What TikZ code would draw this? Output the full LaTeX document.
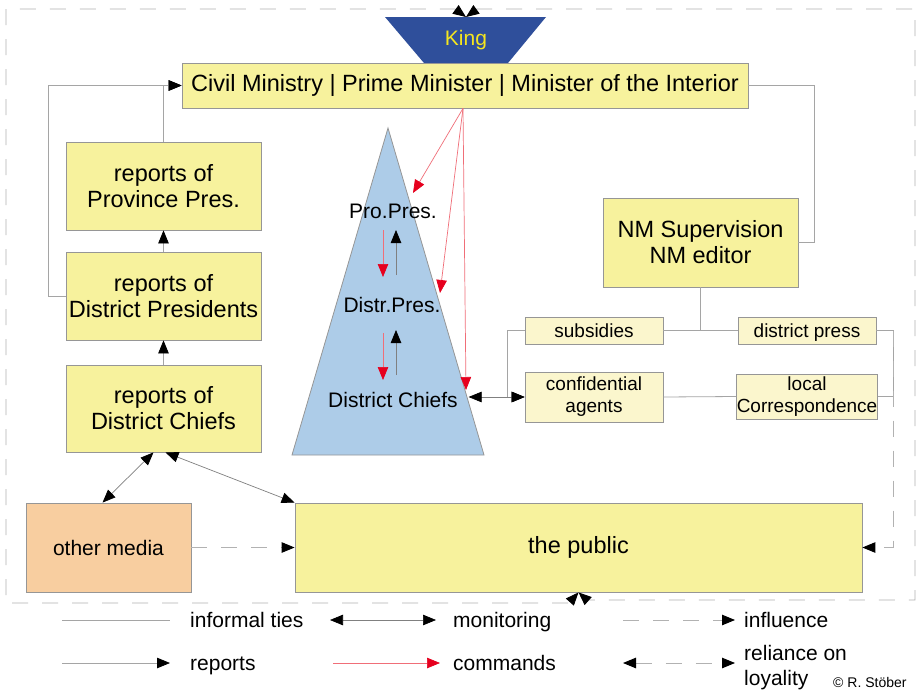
\documentclass[tikz,border=0pt]{standalone}
\usepackage{fontspec}
\setmainfont{Liberation Sans}
\usepackage{tikz}
\usetikzlibrary{arrows.meta}
\usetikzlibrary{calc}

\definecolor{boxyellow}{RGB}{247,242,157}
\definecolor{paleyellow}{RGB}{251,246,205}
\definecolor{mediafill}{RGB}{248,206,160}
\definecolor{pyramidblue}{RGB}{173,204,232}
\definecolor{kingblue}{RGB}{47,79,155}
\definecolor{kingtext}{RGB}{245,230,30}
\definecolor{edgegray}{RGB}{150,150,150}
\definecolor{linegray}{RGB}{165,165,165}
\definecolor{dashgray}{RGB}{178,178,178}
\definecolor{cmdred}{RGB}{230,0,30}
\definecolor{cmdline}{RGB}{240,110,120}

\begin{document}
\begin{tikzpicture}[x=1pt,y=-1pt,
>={Triangle[length=13pt,width=10.5pt,color=black]},
box/.style={draw=edgegray, fill=boxyellow, line width=0.8pt, align=center,
  inner sep=0pt, font=\fontsize{23.5}{26}\selectfont},
tallbox/.style={box, minimum width=195pt, minimum height=88pt},
smallbox/.style={box, fill=paleyellow, minimum width=138pt, minimum height=27pt,
  font=\fontsize{19}{22}\selectfont},
level/.style={inner sep=0pt, font=\fontsize{21}{24}\selectfont},
legend/.style={anchor=base west, inner sep=0pt, align=left, font=\fontsize{21}{25}\selectfont},
tie/.style={draw=linegray, line width=0.8pt},
report/.style={tie, ->},
monitor/.style={draw=gray, line width=0.7pt, <->},
command/.style={draw=cmdline, line width=0.7pt, -{Triangle[length=13pt,width=10.5pt,color=cmdred]}},
influence/.style={draw=dashgray, line width=0.9pt, dash pattern=on 16pt off 14pt, ->},
loyal/.style={influence, <->}
]
\useasboundingbox (0,0) rectangle (916,691);
\fill[white] (0,0) rectangle (916,691);

\fill[kingblue] (385,17) -- (546,17) -- (508,63) -- (424,63) -- cycle;
\node[level, text=kingtext] (king) at (466,40) {King};
\coordinate (kingtop) at (466,17);

\filldraw[fill=pyramidblue, draw=edgegray, line width=0.8pt] (388,128) -- (484,455) -- (292,455) -- cycle;
\node[level] (propres) at (393,211) {Pro.Pres.};
\node[level] (distrpres) at (392,305) {Distr.Pres.};
\node[level] (chiefs) at (393,400) {District Chiefs};

\node[box, minimum width=566pt, minimum height=45pt] (cm) at (465,85.5) {Civil Ministry | Prime Minister | Minister of the Interior};
\node[tallbox] (pp) at (163.5,186) {reports of\\Province Pres.};
\node[tallbox] (dp) at (163.5,296) {reports of\\District Presidents};
\node[tallbox, minimum height=87pt] (dc) at (163.5,408.5) {reports of\\District Chiefs};
\node[tallbox, minimum height=89pt] (nm) at (700.5,242.5) {NM Supervision\\NM editor};
\node[smallbox] (subs) at (594,330.5) {subsidies};
\node[smallbox, text depth=0pt] (dpress) at (807,330.5) {district press};
\node[smallbox, minimum height=50pt] (agents) at (594,397) {confidential\\agents};
\node[smallbox, minimum height=45pt] (localc) at (807,396.5) {local\\Correspondence};
\node[box, fill=mediafill, minimum width=165pt, minimum height=89pt, font=\fontsize{21}{24}\selectfont] (media) at (108.5,547.5) {other media};
\node[box, minimum width=567pt, minimum height=89pt] (public) at (578.5,547.5) {the public};

\draw[loyal] (kingtop) -- (455,9) -- (6,9) -- (6,603) -- (569,603) -- (public.south);
\draw[loyal] (kingtop) -- (477,9) -- (915,9) -- (915,600) -- (587,600) -- (public.south);

\draw[report] (dp.north) -- (pp.south);
\draw[report] (dc.north) -- (dp.south);
\draw[report] (pp.north) |- (cm.west);
\draw[report] (dp.west) -- ++(-17,0) |- (cm.west);

\draw[command] ([xshift=-2pt]cm.south) -- ([xshift=20pt,yshift=18pt]propres.center);
\draw[command] ([xshift=-2pt]cm.south) -- ([xshift=48pt,yshift=12pt]distrpres.center);
\draw[command] ([xshift=-2pt]cm.south) -- ([xshift=73pt,yshift=10pt]chiefs.center);
\draw[command] ([xshift=-10pt,yshift=-19pt]propres.center) -- ([xshift=-9pt,yshift=28pt]distrpres.center);
\draw[report, draw=gray] ([xshift=4pt,yshift=30pt]distrpres.center) -- ([xshift=3pt,yshift=-19pt]propres.center);
\draw[command] ([xshift=-9pt,yshift=-28pt]distrpres.center) -- ([xshift=-10pt,yshift=20pt]chiefs.center);
\draw[report, draw=gray] ([xshift=3pt,yshift=25pt]chiefs.center) -- ([xshift=4pt,yshift=-25pt]distrpres.center);

\draw[tie] (cm.east) -- ++(66,0) |- (nm.east);
\draw[tie] (nm.south) -- (nm.south |- subs.east);
\draw[tie] (subs.east) -- (dpress.west);
\draw[tie] (agents.east) -- (localc.west);
\draw[tie] (dpress.east) -- ++(17,0) coordinate (dpc) |- (localc.east);
\draw[report] (subs.west) -- ++(-17,0) |- (agents.west);
\draw[monitor] (agents.west) -- ++(-56,0);

\draw[monitor] ([xshift=-10pt]dc.south) -- ([xshift=-6pt]media.north);
\draw[monitor] ([xshift=2pt]dc.south) -- (public.north west);
\draw[influence] (media.east) -- (public.west);
\draw[influence] (dpc) |- (public.east);

\node[legend] (lgties) at (190,627.5) {informal ties};
\node[legend] (lgmon) at (453,627.5) {monitoring};
\node[legend] (lginf) at (744,627.5) {influence};
\node[legend] (lgrep) at (190,670.5) {reports};
\node[legend] (lgcmd) at (453,670.5) {commands};
\node[legend, anchor=north west] (lgloy) at (744,645) {reliance on\\loyality};
\node[anchor=base west, inner sep=0pt, font=\fontsize{14}{16}\selectfont] (copyr) at (833,687) {© R. Stöber};
\draw[tie] ([xshift=-128pt,yshift=7.5pt]lgties.base west) -- ([xshift=-20pt,yshift=7.5pt]lgties.base west);
\draw[monitor] ([xshift=-123pt,yshift=7.5pt]lgmon.base west) -- ([xshift=-17pt,yshift=7.5pt]lgmon.base west);
\draw[influence] ([xshift=-121pt,yshift=7.5pt]lginf.base west) -- ([xshift=-9pt,yshift=7.5pt]lginf.base west);
\draw[report] ([xshift=-128pt,yshift=7.5pt]lgrep.base west) -- ([xshift=-20pt,yshift=7.5pt]lgrep.base west);
\draw[command] ([xshift=-120pt,yshift=7.5pt]lgcmd.base west) -- ([xshift=-13pt,yshift=7.5pt]lgcmd.base west);
\draw[loyal] ([xshift=-121pt,yshift=7.5pt]lgcmd.base west -| lgloy.west) -- ([xshift=-9pt,yshift=7.5pt]lgcmd.base west -| lgloy.west);
\end{tikzpicture}
\end{document}
